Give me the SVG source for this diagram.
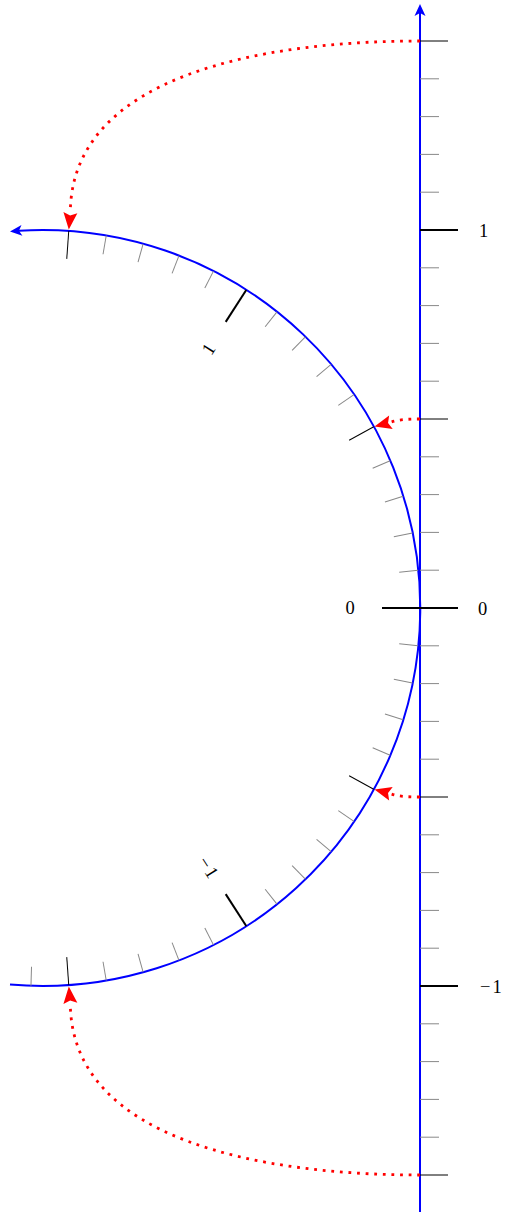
<svg xmlns="http://www.w3.org/2000/svg" xmlns:xlink="http://www.w3.org/1999/xlink" width="507" height="1212" viewBox="0 0 507 1212">
<style>
.blue{fill:none;stroke:#0000ff;stroke-width:2}
.bhead{fill:#0000ff;stroke:none}
.rhead{fill:#ff0000;stroke:none}
.dot{fill:none;stroke:#ff0000;stroke-width:2.8;stroke-dasharray:2.8 5.8}
.maj{stroke:#000;stroke-width:2}
.med{stroke:#000;stroke-width:1}
.min{stroke:#888;stroke-width:1}
.lbl{font-family:"Liberation Serif","DejaVu Serif",serif;font-size:18.5px;fill:#000}
</style>
<defs>
<path id="bh" d="M0,0 L-12,-5.5 L-9,0 L-12,5.5 Z"/>
<path id="rh" d="M0,0 L-17,-7 L-14,0 L-17,7 Z"/>
<line id="amin" x1="420" y1="0" x2="439" y2="0"/>
<line id="amed" x1="420" y1="0" x2="448" y2="0"/>
<line id="amaj" x1="420" y1="0" x2="458" y2="0"/>
<line id="cmin" x1="359" y1="0" x2="378" y2="0"/>
<line id="cmed" x1="350" y1="0" x2="378" y2="0"/>
<line id="cmaj" x1="340" y1="0" x2="378" y2="0"/>
</defs>

<g id="axis">
<line class="blue" x1="420" y1="1212" x2="420" y2="12"/>
<use href="#bh" class="bhead" transform="translate(420,4) rotate(-90)"/>
</g>

<g id="circle-arc">
<path class="blue" d="M10,984.6 A378,378 0 1 0 18.96,230.7"/>
<use href="#bh" class="bhead" transform="translate(10,231.4) rotate(175.1)"/>
</g>

<g id="axis-ticks">
<use href="#amed" class="med" transform="translate(0,41)"/>
<use href="#amin" class="min" transform="translate(0,78.8)"/>
<use href="#amin" class="min" transform="translate(0,116.6)"/>
<use href="#amin" class="min" transform="translate(0,154.4)"/>
<use href="#amin" class="min" transform="translate(0,192.2)"/>
<use href="#amaj" class="maj" transform="translate(0,230)"/>
<use href="#amin" class="min" transform="translate(0,267.8)"/>
<use href="#amin" class="min" transform="translate(0,305.6)"/>
<use href="#amin" class="min" transform="translate(0,343.4)"/>
<use href="#amin" class="min" transform="translate(0,381.2)"/>
<use href="#amed" class="med" transform="translate(0,419)"/>
<use href="#amin" class="min" transform="translate(0,456.8)"/>
<use href="#amin" class="min" transform="translate(0,494.6)"/>
<use href="#amin" class="min" transform="translate(0,532.4)"/>
<use href="#amin" class="min" transform="translate(0,570.2)"/>
<use href="#amaj" class="maj" transform="translate(0,608)"/>
<use href="#amin" class="min" transform="translate(0,645.8)"/>
<use href="#amin" class="min" transform="translate(0,683.6)"/>
<use href="#amin" class="min" transform="translate(0,721.4)"/>
<use href="#amin" class="min" transform="translate(0,759.2)"/>
<use href="#amed" class="med" transform="translate(0,797)"/>
<use href="#amin" class="min" transform="translate(0,834.8)"/>
<use href="#amin" class="min" transform="translate(0,872.6)"/>
<use href="#amin" class="min" transform="translate(0,910.4)"/>
<use href="#amin" class="min" transform="translate(0,948.2)"/>
<use href="#amaj" class="maj" transform="translate(0,986)"/>
<use href="#amin" class="min" transform="translate(0,1023.8)"/>
<use href="#amin" class="min" transform="translate(0,1061.6)"/>
<use href="#amin" class="min" transform="translate(0,1099.4)"/>
<use href="#amin" class="min" transform="translate(0,1137.2)"/>
<use href="#amed" class="med" transform="translate(0,1175)"/>
</g>

<g id="arc-ticks" transform="translate(42,608)">
<use href="#cmed" class="med" transform="rotate(-85.9437)"/>
<use href="#cmin" class="min" transform="rotate(-80.2141)"/>
<use href="#cmin" class="min" transform="rotate(-74.4845)"/>
<use href="#cmin" class="min" transform="rotate(-68.7549)"/>
<use href="#cmin" class="min" transform="rotate(-63.0254)"/>
<use href="#cmaj" class="maj" transform="rotate(-57.2958)"/>
<use href="#cmin" class="min" transform="rotate(-51.5662)"/>
<use href="#cmin" class="min" transform="rotate(-45.8366)"/>
<use href="#cmin" class="min" transform="rotate(-40.1070)"/>
<use href="#cmin" class="min" transform="rotate(-34.3775)"/>
<use href="#cmed" class="med" transform="rotate(-28.6479)"/>
<use href="#cmin" class="min" transform="rotate(-22.9183)"/>
<use href="#cmin" class="min" transform="rotate(-17.1887)"/>
<use href="#cmin" class="min" transform="rotate(-11.4592)"/>
<use href="#cmin" class="min" transform="rotate(-5.7296)"/>
<use href="#cmaj" class="maj"/>
<use href="#cmin" class="min" transform="rotate(5.7296)"/>
<use href="#cmin" class="min" transform="rotate(11.4592)"/>
<use href="#cmin" class="min" transform="rotate(17.1887)"/>
<use href="#cmin" class="min" transform="rotate(22.9183)"/>
<use href="#cmed" class="med" transform="rotate(28.6479)"/>
<use href="#cmin" class="min" transform="rotate(34.3775)"/>
<use href="#cmin" class="min" transform="rotate(40.1070)"/>
<use href="#cmin" class="min" transform="rotate(45.8366)"/>
<use href="#cmin" class="min" transform="rotate(51.5662)"/>
<use href="#cmaj" class="maj" transform="rotate(57.2958)"/>
<use href="#cmin" class="min" transform="rotate(63.0254)"/>
<use href="#cmin" class="min" transform="rotate(68.7549)"/>
<use href="#cmin" class="min" transform="rotate(74.4845)"/>
<use href="#cmin" class="min" transform="rotate(80.2141)"/>
<use href="#cmed" class="med" transform="rotate(85.9437)"/>
<use href="#cmin" class="min" transform="rotate(91.6732)"/>
</g>

<g id="axis-labels" class="lbl">
<text x="479" y="236.5">1</text>
<text x="478" y="614.5">0</text>
<text x="480" y="992.5">−<tspan dx="2">1</tspan></text>
</g>

<g id="arc-labels" class="lbl" text-anchor="middle" transform="translate(42,608)">
<text x="308" y="6.3">0</text>
<text x="308" y="6.3" transform="rotate(-57.2958)">1</text>
<text x="308" y="6.3" transform="rotate(57.2958)">−<tspan dx="2">1</tspan></text>
</g>

<g id="connectors">
<path class="dot" d="M420,41 C263,41 71,75 70.3,213"/>
<use href="#rh" class="rhead" transform="translate(68.8,229.5) rotate(95.4)"/>
<path class="dot" d="M420,419 C405,419 398,420 391.5,422"/>
<use href="#rh" class="rhead" transform="translate(374.5,426.5) rotate(165.2)"/>
<path class="dot" d="M420,797 C405,797 398,796 391.5,794"/>
<use href="#rh" class="rhead" transform="translate(374.5,789.5) rotate(-165.2)"/>
<path class="dot" d="M420,1175 C263,1175 71,1141 70.3,1003"/>
<use href="#rh" class="rhead" transform="translate(68.8,986.5) rotate(-95.4)"/>
</g>
</svg>
